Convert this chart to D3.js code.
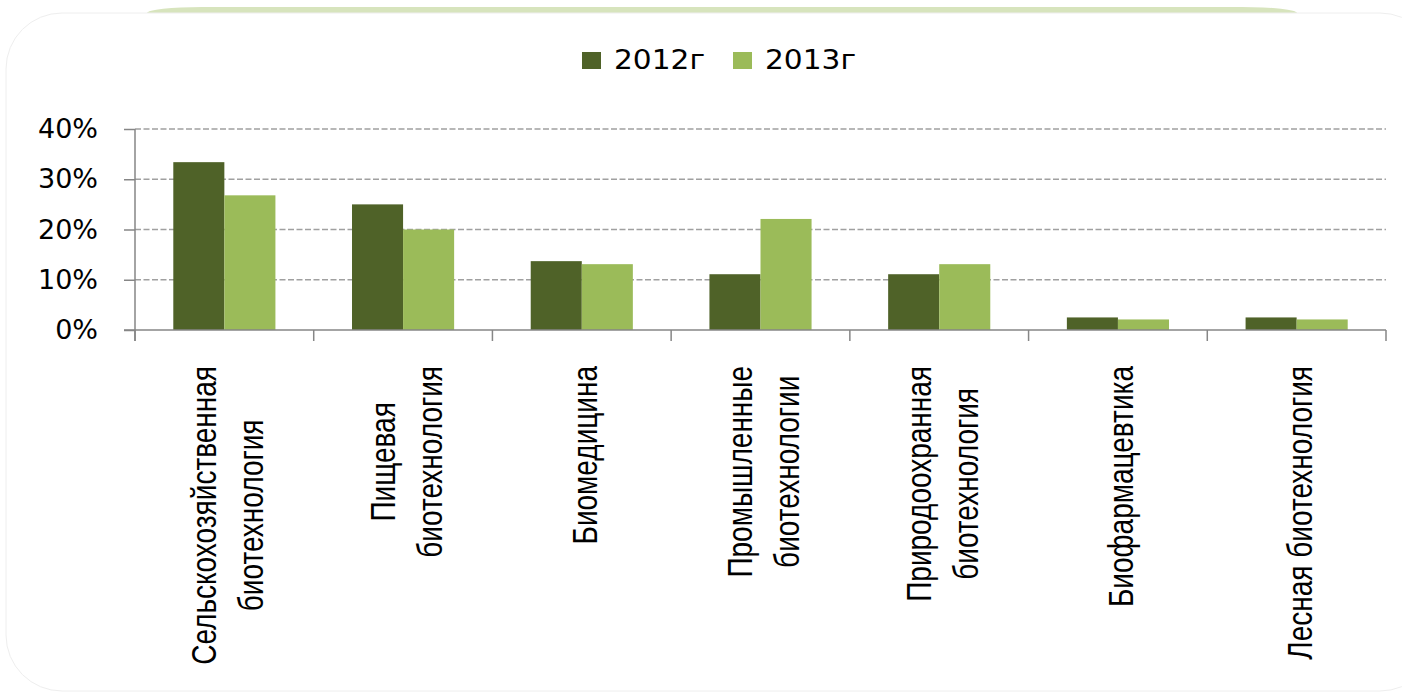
<!DOCTYPE html>
<html>
<head>
<meta charset="utf-8">
<script src="https://cdn.jsdelivr.net/npm/d3@7"></script>
<style>
  html, body { margin: 0; padding: 0; background: #fff; }
  svg { display: block; }
</style>
</head>
<body>
<div id="chart"></div>
<script>
// Data
const categories = [
    "Сельскохозяйственная\nбиотехнология",
    "Пищевая\nбиотехнология",
    "Биомедицина",
    "Промышленные\nбиотехнологии",
    "Природоохранная\nбиотехнология",
    "Биофармацевтика",
    "Лесная биотехнология"
];
const seriesNames = ["2012г", "2013г"];
const values2012 = [0.334, 0.25, 0.137, 0.111, 0.111, 0.025, 0.025];
const values2013 = [0.268, 0.20, 0.131, 0.221, 0.131, 0.021, 0.021];
const yTicks = [0, 0.1, 0.2, 0.3, 0.4];
const colors = ["#4f6228", "#9bbb59"];

const W = 1402, H = 692;

const svg = d3.select("#chart").append("svg")
    .attr("width", W)
    .attr("height", H);

// Background: green sliver on top and the white rounded panel
svg.append("rect")
    .attr("x", 147).attr("y", 7)
    .attr("width", 1150).attr("height", 40)
    .attr("rx", 55).attr("ry", 6)
    .attr("fill", "#d7e4bd");

svg.append("rect")
    .attr("x", 6).attr("y", 13)
    .attr("width", 1430).attr("height", 678)
    .attr("rx", 56)
    .attr("fill", "#fff")
    .attr("stroke", "#eeeeee")
    .attr("stroke-width", 1);

// Scales
const x = d3.scaleBand()
    .domain(categories)
    .range([135, 1386])
    .paddingInner(0)
    .paddingOuter(0);

const x1 = d3.scaleBand()
    .domain(seriesNames)
    .range([0, x.bandwidth()])
    .paddingInner(0)
    .paddingOuter(0.75);

const y = d3.scaleLinear()
    .domain([0, 0.4])
    .range([330, 129]);

// Gridlines (dashed)
svg.append("g")
    .selectAll("line")
    .data(yTicks.filter(d => d > 0))
    .enter().append("line")
    .attr("x1", 135).attr("x2", 1386)
    .attr("y1", d => y(d)).attr("y2", d => y(d))
    .attr("stroke", "#a0a0a0")
    .attr("stroke-width", 1.4)
    .attr("stroke-dasharray", "6,2.5");

// Y axis
const yAxis = svg.append("g")
    .attr("transform", "translate(135,0)")
    .call(d3.axisLeft(y).tickValues(yTicks).tickFormat(d3.format(".0%"))
        .tickSize(11).tickPadding(26).tickSizeOuter(0));
yAxis.select(".domain").attr("stroke", "#868686").attr("stroke-width", 1.5)
    .attr("d", `M0,${y(0.4)}V341`);
yAxis.selectAll(".tick line").attr("stroke", "#868686").attr("stroke-width", 1.5);
yAxis.selectAll(".tick text")
    .attr("fill", "#000")
    .style("font-family", "'DejaVu Sans', Verdana, sans-serif")
    .style("font-size", "27px");

// Bars
const rows = categories.map((c, i) => ({cat: c, vals: [values2012[i], values2013[i]]}));
const groups = svg.append("g").selectAll("g")
    .data(rows)
    .enter().append("g")
    .attr("transform", d => `translate(${x(d.cat)},0)`);

groups.selectAll("rect")
    .data(d => d.vals.map((v, j) => ({key: seriesNames[j], v: v, j: j})))
    .enter().append("rect")
    .attr("x", d => x1(d.key))
    .attr("y", d => y(d.v))
    .attr("width", x1.bandwidth())
    .attr("height", d => y(0) - y(d.v))
    .attr("fill", d => colors[d.j]);

// X axis baseline and boundary ticks
svg.append("line")
    .attr("x1", 124).attr("x2", 1386)
    .attr("y1", y(0)).attr("y2", y(0))
    .attr("stroke", "#868686").attr("stroke-width", 1.5);

const boundaries = categories.map(c => x(c)).concat([x.range()[1]]);
svg.append("g").selectAll("line")
    .data(boundaries)
    .enter().append("line")
    .attr("x1", d => d).attr("x2", d => d)
    .attr("y1", y(0)).attr("y2", y(0) + 11)
    .attr("stroke", "#868686").attr("stroke-width", 1.5);

// Rotated category labels
const lineGap = 47;
const labels = svg.append("g").selectAll("g")
    .data(categories)
    .enter().append("g")
    .attr("transform", d => `translate(${x(d) + x.bandwidth() / 2},366) rotate(-90) scale(0.8,1)`);

labels.each(function(d) {
    const g = d3.select(this);
    const lines = d.split("\n");
    const n = lines.length;
    const texts = lines.map((t, i) => g.append("text")
        .attr("y", 15 + (i - (n - 1) / 2) * lineGap)
        .attr("text-anchor", "middle")
        .style("font-family", "'Liberation Sans', Arial, sans-serif")
        .style("font-size", "35px")
        .attr("fill", "#000")
        .text(t));
    const maxLen = d3.max(texts, t => t.node().getComputedTextLength());
    texts.forEach(t => t.attr("x", -maxLen / 2));
});

// Legend
const legend = svg.append("g");
const legendX = [582, 733];
seriesNames.forEach((s, i) => {
    legend.append("rect")
        .attr("x", legendX[i]).attr("y", 52)
        .attr("width", 19).attr("height", 17)
        .attr("fill", colors[i]);
    legend.append("text")
        .attr("transform", `translate(${legendX[i] + 32},69) scale(1.14,1)`)
        .style("font-family", "'DejaVu Sans', Verdana, sans-serif")
        .style("font-size", "26px")
        .attr("fill", "#000")
        .text(s);
});
</script>
</body>
</html>
